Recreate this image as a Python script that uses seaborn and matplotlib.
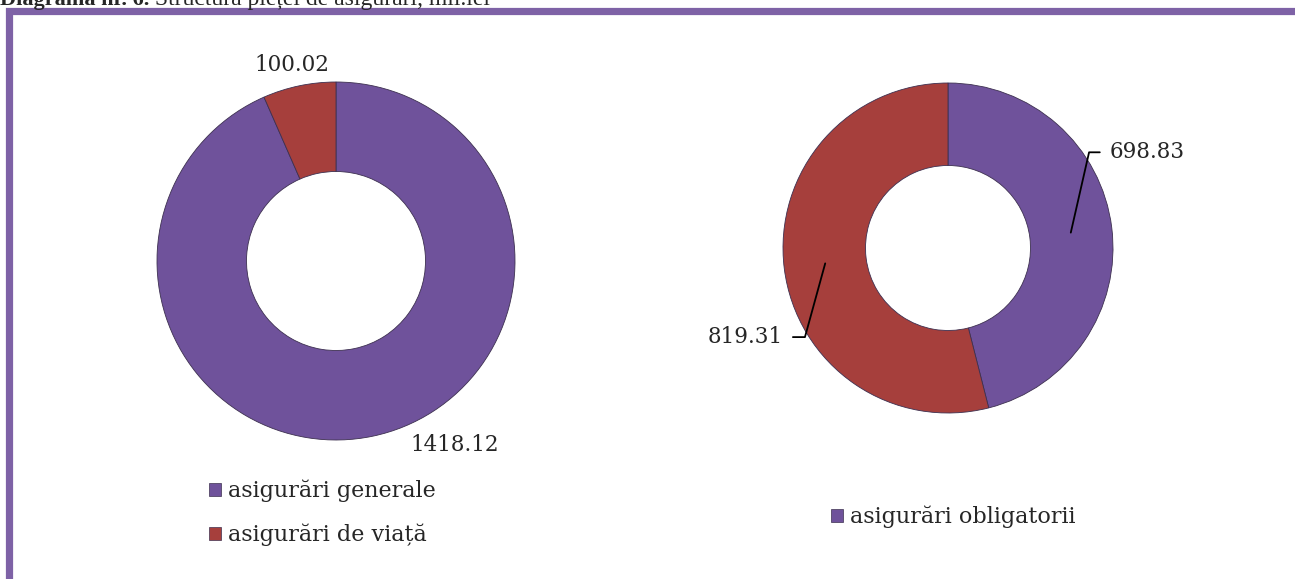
import matplotlib
matplotlib.use("Agg")
import matplotlib.pyplot as plt
import seaborn as sns
import numpy as np
from matplotlib.patches import Patch, Rectangle

# ---- data ----
left_categories = ["asigurări generale", "asigurări de viață"]
left_values = [1418.12, 100.02]
left_labels = ["1418.12", "100.02"]
right_categories = ["asigurări obligatorii", "asigurări facultative"]
right_values = [698.83, 819.31]
right_labels = ["698.83", "819.31"]
title_bold = "Diagrama nr. 6."
title_rest = " Structura pieței de asigurări, mil.lei"

sns.set_theme(style="white")
plt.rcParams['font.family'] = ['DejaVu Serif']
colors = ["#6F529B", "#A63F3C"]
edge = "#3d3050"

W, H = 1295, 579
fig = plt.figure(figsize=(W / 100, H / 100), dpi=100)
fig.patch.set_facecolor("white")


def add_ax(cx, cy, r):
    ax = fig.add_axes([(cx - r) / W, (H - cy - r) / H, 2 * r / W, 2 * r / H])
    return ax


FS = 15.5
LFS = 16

# left donut
axL = add_ax(336, 261, 179)
wl, _ = axL.pie(left_values, colors=colors, startangle=90, counterclock=False,
                radius=1, wedgeprops=dict(width=0.5, edgecolor=edge, linewidth=0.6))
axL.set_xlim(-1, 1); axL.set_ylim(-1, 1); axL.set_axis_off()
axL.text(0.665, -1.03, left_labels[0], ha="center", va="center", fontsize=FS, clip_on=False)
axL.text(-0.246, 1.095, left_labels[1], ha="center", va="center", fontsize=FS, clip_on=False)

# right donut
axR = add_ax(948, 248, 165)
wr, _ = axR.pie(right_values, colors=colors, startangle=90, counterclock=False,
                radius=1, wedgeprops=dict(width=0.5, edgecolor=edge, linewidth=0.6))
axR.set_xlim(-1, 1); axR.set_ylim(-1, 1); axR.set_axis_off()


def mid(w, r=0.75):
    a = np.deg2rad((w.theta1 + w.theta2) / 2)
    return r * np.cos(a), r * np.sin(a)

x0, y0 = mid(wr[0])
axR.plot([x0, 0.855, 0.92], [y0, 0.58, 0.58], color="black", lw=1.3, clip_on=False)
axR.text(0.98, 0.58, right_labels[0], ha="left", va="center", fontsize=FS, clip_on=False)
x1, y1 = mid(wr[1])
axR.plot([x1, -0.867, -0.94], [y1, -0.54, -0.54], color="black", lw=1.3, clip_on=False)
axR.text(-1.0, -0.54, right_labels[1], ha="right", va="center", fontsize=FS, clip_on=False)

# legends
hl = [Patch(facecolor=colors[i], edgecolor=edge, linewidth=0.5) for i in range(2)]
fig.legend(hl, left_categories, loc="upper left", bbox_to_anchor=(209 / W, (H - 480) / H),
           frameon=False, fontsize=LFS, handlelength=0.55, handleheight=0.55,
           handletextpad=0.3, labelspacing=0.95, borderpad=0, borderaxespad=0)
fig.legend(hl[:1], right_categories[:1], loc="upper left", bbox_to_anchor=(831 / W, (H - 506) / H),
           frameon=False, fontsize=LFS, handlelength=0.55, handleheight=0.55,
           handletextpad=0.3, borderpad=0, borderaxespad=0)

# border frame (top and left visible)
fig.patches.append(Rectangle((8.5 / W, -0.2), 1.5, 1.2 - 10.5 / H, transform=fig.transFigure,
                             fill=False, edgecolor="#7E62A6", linewidth=5.2, zorder=0))

# title (cut off at top, as in the reference)
tb = fig.text(0.0, (H - 5) / H, title_bold, fontsize=16, fontweight="bold", va="baseline",
              ha="left", family="Liberation Serif")
fig.canvas.draw()
bb = tb.get_window_extent()
fig.text(bb.x1 / W, (H - 5) / H, title_rest, fontsize=17, va="baseline", ha="left",
         family="Liberation Serif")

fig.savefig("out.png", dpi=100, facecolor="white")
